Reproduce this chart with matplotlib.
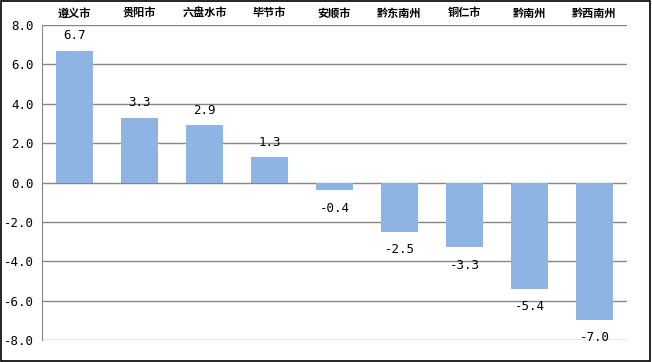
import matplotlib
matplotlib.use("Agg")
import matplotlib.pyplot as plt
from matplotlib.patches import Rectangle

plt.rcParams['font.family'] = ['Noto Sans CJK SC', 'DejaVu Sans']

categories = ["遵义市", "贵阳市", "六盘水市", "毕节市", "安顺市", "黔东南州", "铜仁市", "黔南州", "黔西南州"]
values = [6.7, 3.3, 2.9, 1.3, -0.4, -2.5, -3.3, -5.4, -7.0]
yticks = [-8.0, -6.0, -4.0, -2.0, 0.0, 2.0, 4.0, 6.0, 8.0]

fig = plt.figure(figsize=(6.52, 3.62), dpi=100)
fig.patches.append(Rectangle((0.002, 0.003), 0.995, 0.994, transform=fig.transFigure,
                             fill=False, edgecolor='black', linewidth=1.2))
ax = fig.add_axes([0.0644, 0.0608, 0.8973, 0.870])

x = list(range(len(categories)))
ax.bar(x, values, width=0.58, color='#8EB4E3', zorder=3)
ax.set_xlim(-0.5, len(categories) - 0.5)
ax.set_ylim(-8, 8)
ax.set_yticks(yticks)
ax.set_yticklabels([f"{v:.1f}" for v in yticks], family='DejaVu Sans Mono', fontsize=9)
ax.grid(axis='y', color='#868686', linewidth=1, zorder=0)
for s in ['top', 'right', 'bottom']:
    ax.spines[s].set_visible(False)
ax.spines['left'].set_color('#868686')
ax.tick_params(axis='y', length=0, pad=6)
ax.tick_params(axis='x', length=0, top=True, bottom=False, labeltop=True, labelbottom=False, pad=4)
ax.set_xticks(x)
ax.set_xticklabels(categories, fontsize=8, fontweight='bold')

for xi, v in zip(x, values):
    if v >= 0:
        ax.annotate(f"{v:.1f}", (xi, v), xytext=(0, 6), textcoords='offset points',
                    ha='center', va='bottom', family='DejaVu Sans Mono', fontsize=9)
    else:
        ax.annotate(f"{v:.1f}", (xi, v), xytext=(0, -8), textcoords='offset points',
                    ha='center', va='top', family='DejaVu Sans Mono', fontsize=9)

fig.savefig("out.png", dpi=100)
